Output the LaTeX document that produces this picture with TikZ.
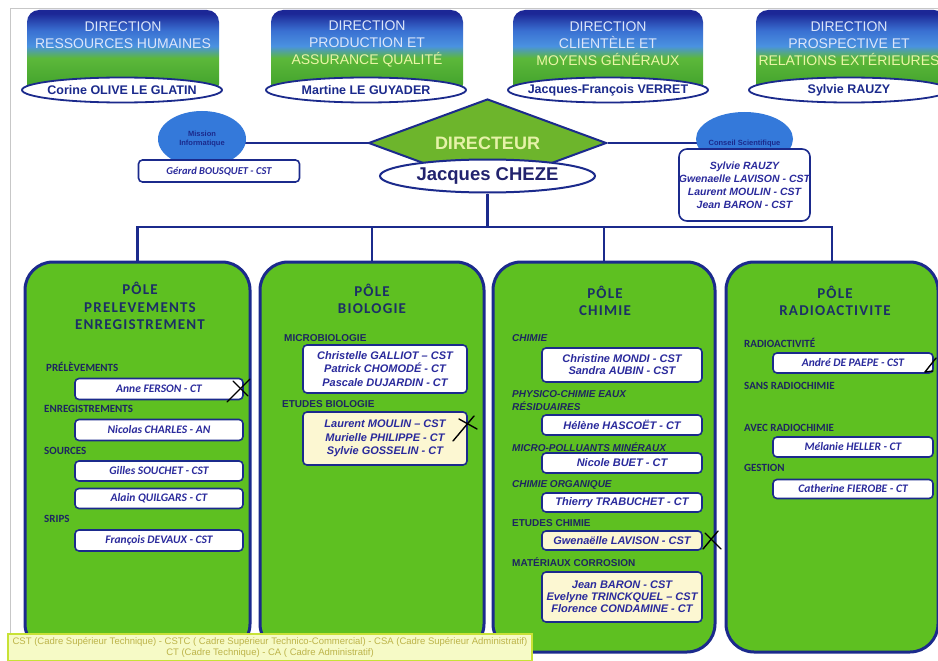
\documentclass[tikz,border=0pt]{standalone}
\usepackage{fontspec}
\setmainfont{Liberation Sans}
\newfontfamily\calib{Carlito}
\newfontfamily\calibsp[LetterSpace=8]{Carlito}
\usetikzlibrary{shapes.geometric}
\pgfdeclarelayer{bg}
\pgfsetlayers{bg,main}
\definecolor{navy}{HTML}{1B2A8C}
\definecolor{polegreen}{HTML}{5EC021}
\definecolor{diagreen}{HTML}{6DB52C}
\definecolor{nametxt}{HTML}{2A2A9C}
\definecolor{labtxt}{HTML}{1D2660}
\definecolor{titletxt}{HTML}{1C2F66}
\definecolor{paleyel}{HTML}{FCF7D2}
\definecolor{ellblue}{HTML}{3479DA}
\definecolor{bgreen}{HTML}{3A9C28}
\definecolor{bgreen2}{HTML}{5CB83A}
\definecolor{bblue2}{HTML}{4A92E0}
\definecolor{bblue1}{HTML}{3A70D2}
\definecolor{bblue0}{HTML}{1C2796}
\definecolor{btop}{HTML}{DCE6FA}
\definecolor{byel}{HTML}{EAF5A6}
\definecolor{dirtxt}{HTML}{E6F2A8}
\definecolor{chezetxt}{HTML}{22236E}
\definecolor{legfill}{HTML}{F6FAC6}
\definecolor{legbord}{HTML}{C8E236}
\definecolor{legtxt}{HTML}{BDB44A}
\pgfdeclareverticalshading{bannershade}{100bp}{color(0bp)=(bgreen); color(25bp)=(bgreen); color(47bp)=(bgreen2); color(54bp)=(bblue2); color(63bp)=(bblue1); color(73bp)=(bblue0); color(100bp)=(bblue0)}
\begin{document}
\begin{tikzpicture}[x=1pt,y=-1pt,
  conn/.style={draw=navy, line width=2.6pt},
  banner/.style={rectangle, rounded corners=12pt, minimum height=86pt, shading=bannershade, inner sep=0pt},
  btext/.style={font=\fontsize{14}{17}\selectfont, text=btop, align=center},
  direll/.style={ellipse, draw=navy, line width=1.8pt, fill=white, minimum width=200pt, minimum height=25pt, inner sep=0pt, font=\bfseries\fontsize{12.5}{14}\selectfont, text=navy},
  pole/.style={rectangle, draw=navy, line width=3pt, fill=polegreen, rounded corners=28pt, minimum height=390pt, inner sep=0pt},
  ptitle/.style={font=\calibsp\bfseries\fontsize{15}{17.5}\selectfont, text=titletxt, align=center},
  namebox/.style={rectangle, draw=navy, line width=1.6pt, fill=white, rounded corners=4pt, inner sep=0pt, align=center, text=nametxt, font=\bfseries\itshape\fontsize{11}{13.5}\selectfont},
  calbox/.style={namebox, font=\calib\bfseries\itshape\fontsize{11.5}{13.5}\selectfont},
  lab/.style={anchor=west, inner sep=0pt, text=labtxt, font=\bfseries\fontsize{10}{13}\selectfont, align=left},
  callab/.style={lab, font=\calib\bfseries\fontsize{11}{13}\selectfont},
  itlab/.style={lab, font=\bfseries\itshape\fontsize{10}{13}\selectfont},
  penmark/.style={draw=black, line width=1.4pt, line cap=round, line join=round}
]
\useasboundingbox (0,0) rectangle (938,661);
\clip (0,0) rectangle (938,661);
\begin{pgfonlayer}{bg}
\fill[white] (0,0) rectangle (938,661);
\draw[black!22, line width=1pt] (10,633) -- (10,9) -- (938,9);
\end{pgfonlayer}

% top banners
\node[banner, minimum width=192pt] (b1) at (123,53) {};
\node[banner, minimum width=192pt] (b2) at (367,53) {};
\node[banner, minimum width=190pt] (b3) at (608,53) {};
\node[banner, minimum width=190pt] (b4) at (851,53) {};
\node[btext] (b1t) at (123,35.5) {DIRECTION\\RESSOURCES HUMAINES};
\node[btext] (b2t) at (367,44) {DIRECTION\\PRODUCTION ET\\\textcolor{byel}{ASSURANCE QUALITÉ}};
\node[btext] (b3t) at (608,44) {DIRECTION\\CLIENTÈLE ET\\\textcolor{byel}{MOYENS GÉNÉRAUX}};
\node[btext] (b4t) at (849,44) {DIRECTION\\PROSPECTIVE ET\\\textcolor{byel}{RELATIONS EXTÉRIEURES}};
\node[direll] (e1) at (122,90) {\makebox[0pt]{Corine OLIVE LE GLATIN}};
\node[direll] (e2) at (366,90) {\makebox[0pt]{Martine LE GUYADER}};
\node[direll] (e3) at (608,90) {\makebox[0pt]{Jacques-François VERRET}};
\node[direll] (e4) at (849,90) {\makebox[0pt]{Sylvie RAUZY}};

% director
\node[diamond, draw=navy, line width=2pt, fill=diagreen, minimum width=238pt, minimum height=88pt, inner sep=0pt, text=dirtxt, font=\bfseries\fontsize{18}{20}\selectfont] (dir) at (487.5,143) {\makebox[0pt]{DIRECTEUR}};
\node[ellipse, draw=navy, line width=2pt, fill=white, minimum width=215pt, minimum height=33pt, inner sep=0pt, text=chezetxt, font=\bfseries\fontsize{18.5}{20}\selectfont] (cheze) at (487.5,176) {\makebox[0pt]{Jacques CHEZE}};

% mission informatique
\node[ellipse, fill=ellblue, minimum width=88pt, minimum height=56pt, inner sep=0pt, align=center, text=navy, font=\bfseries\fontsize{7.5}{9}\selectfont] (mission) at (202,139) {\makebox[0pt]{Mission}\\\makebox[0pt]{Informatique}};
\node[calbox, minimum width=161pt, minimum height=22pt, font=\calib\bfseries\itshape\fontsize{10.5}{12}\selectfont] (gerard) at (219,171) {Gérard BOUSQUET - CST};

% conseil scientifique
\node[ellipse, fill=ellblue, minimum width=97pt, minimum height=54pt, inner sep=0pt] (conseil) at (744.5,139) {};
\node[text=navy, font=\bfseries\fontsize{7.5}{9}\selectfont, inner sep=0pt] (conseilt) at (744.5,143.5) {Conseil Scientifique};
\node[namebox, minimum width=127pt, minimum height=72pt, rounded corners=8pt, font=\bfseries\itshape\fontsize{10.5}{13}\selectfont] (cs) at (744.5,185) {Sylvie RAUZY\\Gwenaelle LAVISON - CST\\Laurent MOULIN - CST\\Jean BARON - CST};

% poles
\node[pole, minimum width=225pt] (p1) at (137.5,457) {};
\node[pole, minimum width=224pt] (p2) at (372,457) {};
\node[pole, minimum width=222pt] (p3) at (604,457) {};
\node[pole, minimum width=212pt] (p4) at (832,457) {};

\coordinate (bus) at (0,227);
\begin{pgfonlayer}{bg}
\draw[conn] (mission.center |- dir.west) -- (dir.west);
\draw[conn] (dir.east) -- (conseil.center |- dir.east);
\draw[conn] (cheze.south) -- (cheze.south |- bus);
\draw[conn] (p1.north) -- (p1.north |- bus) -- (p4.north |- bus) -- (p4.north);
\draw[conn] (p2.north) -- (p2.north |- bus);
\draw[conn] (p3.north) -- (p3.north |- bus);
\end{pgfonlayer}

% pole 1
\node[ptitle] (t1) at (140,306) {PÔLE\\PRELEVEMENTS\\ENREGISTREMENT};
\node[callab] (l1a) at (46,367) {PRÉLÈVEMENTS};
\node[calbox, minimum width=168pt, minimum height=21pt] (n1a) at (159,389) {Anne FERSON - CT};
\node[callab] (l1b) at (44,409) {ENREGISTREMENTS};
\node[calbox, minimum width=168pt, minimum height=21pt] (n1b) at (159,430) {Nicolas CHARLES - AN};
\node[callab] (l1c) at (44,451) {SOURCES};
\node[calbox, minimum width=168pt, minimum height=20pt] (n1c) at (159,471) {Gilles SOUCHET - CST};
\node[calbox, minimum width=168pt, minimum height=20pt] (n1d) at (159,498.5) {Alain QUILGARS - CT};
\node[callab] (l1d) at (44,519) {SRIPS};
\node[calbox, minimum width=168pt, minimum height=21pt] (n1e) at (159,540.5) {François DEVAUX - CST};

% pole 2
\node[ptitle] (t2) at (372,299) {PÔLE\\BIOLOGIE};
\node[lab] (l2a) at (284,338) {MICROBIOLOGIE};
\node[namebox, minimum width=164pt, minimum height=48pt] (n2a) at (385,369) {Christelle GALLIOT – CST\\Patrick CHOMODÉ - CT\\Pascale DUJARDIN - CT};
\node[lab] (l2b) at (282,404) {ETUDES BIOLOGIE};
\node[namebox, fill=paleyel, minimum width=164pt, minimum height=53pt] (n2b) at (385,438.5) {Laurent MOULIN – CST\\Murielle PHILIPPE - CT\\Sylvie GOSSELIN - CT};

% pole 3
\node[ptitle] (t3) at (605,301) {PÔLE\\CHIMIE};
\node[itlab] (l3a) at (512,338) {CHIMIE};
\node[namebox, minimum width=160pt, minimum height=34pt, font=\bfseries\itshape\fontsize{11}{12}\selectfont] (n3a) at (622,365) {Christine MONDI - CST\\Sandra AUBIN - CST};
\node[itlab] (l3b) at (512,400.5) {PHYSICO-CHIMIE EAUX\\RÉSIDUAIRES};
\node[namebox, minimum width=160pt, minimum height=20pt] (n3b) at (622,425) {Hélène HASCOËT - CT};
\node[itlab] (l3c) at (512,447) {MICRO-POLLUANTS MINÉRAUX};
\node[namebox, minimum width=160pt, minimum height=20pt] (n3c) at (622,463) {Nicole BUET - CT};
\node[itlab] (l3d) at (512,485) {CHIMIE ORGANIQUE};
\node[namebox, minimum width=160pt, minimum height=19pt] (n3d) at (622,502.5) {Thierry TRABUCHET - CT};
\node[lab] (l3e) at (512,523) {ETUDES CHIMIE};
\node[namebox, fill=paleyel, minimum width=160pt, minimum height=19pt] (n3e) at (622,540.5) {Gwenaëlle LAVISON - CST};
\node[lab] (l3f) at (512,562) {MATÉRIAUX CORROSION};
\node[namebox, fill=paleyel, minimum width=160pt, minimum height=50pt, font=\bfseries\itshape\fontsize{11}{12}\selectfont] (n3f) at (622,597) {Jean BARON - CST\\Evelyne TRINCKQUEL – CST\\Florence CONDAMINE - CT};

% pole 4
\node[ptitle] (t4) at (835,301) {PÔLE\\RADIOACTIVITE};
\node[callab] (l4a) at (744,343) {RADIOACTIVITÉ};
\node[calbox, minimum width=160pt, minimum height=20pt] (n4a) at (853,363) {André DE PAEPE - CST};
\node[callab] (l4b) at (744,386) {SANS RADIOCHIMIE};
\node[callab] (l4c) at (744,428) {AVEC RADIOCHIMIE};
\node[calbox, minimum width=160pt, minimum height=20pt] (n4b) at (853,447) {Mélanie HELLER - CT};
\node[callab] (l4d) at (744,468) {GESTION};
\node[calbox, minimum width=160pt, minimum height=19pt] (n4c) at (853,489) {Catherine FIEROBE - CT};

% legend
\node[draw=legbord, fill=legfill, line width=1.2pt, minimum width=524pt, minimum height=27pt, inner sep=0pt, text=legtxt, align=center, font=\fontsize{9.5}{10.5}\selectfont] (legend) at (270,647.5) {CST (Cadre Supérieur Technique) - CSTC ( Cadre Supérieur Technico-Commercial) - CSA (Cadre Supérieur Administratif)\\CT (Cadre Technique) - CA ( Cadre Administratif)};

% handwritten marks
\draw[penmark] (227,402) -- (250,379);
\draw[penmark] (233,381) -- (248,396);
\draw[penmark] (459,419) -- (477,429);
\draw[penmark] (474,416) -- (453,441);
\draw[penmark] (703,549) -- (718,531);
\draw[penmark] (705,533) -- (721,549);
\draw[penmark] (925,372) -- (936,358);
\draw[penmark] (925,372) -- (933,371);
\end{tikzpicture}
\end{document}
